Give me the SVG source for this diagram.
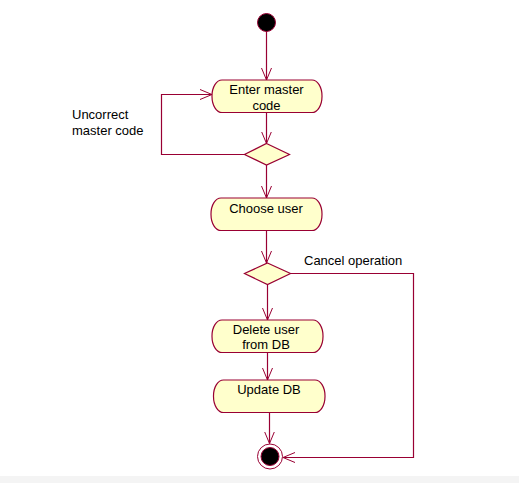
<svg xmlns="http://www.w3.org/2000/svg" width="519" height="483" viewBox="0 0 519 483">
<style>
.node{fill:#ffffcc;stroke:#990033;stroke-width:1.2}
.line{fill:none;stroke:#990033;stroke-width:1.2}
text{font-family:"Liberation Sans",Arial,sans-serif;font-size:13px;fill:#000}
.c{text-anchor:middle}
</style>
<defs>
<marker id="arr" markerWidth="14" markerHeight="12" refX="12" refY="6" orient="auto" markerUnits="userSpaceOnUse">
<path d="M0,1 L12,6 L0,11" fill="none" stroke="#990033" stroke-width="1"/>
</marker>
</defs>
<rect x="0" y="0" width="519" height="483" fill="#ffffff"/>
<rect x="0" y="476" width="519" height="7" fill="#f4f4f4"/>
<g id="connectors">
<path class="line" d="M266.5,31 V80" marker-end="url(#arr)"/>
<path class="line" d="M266.5,112.5 V143.5" marker-end="url(#arr)"/>
<path class="line" d="M244.5,154.5 H161.5 V94.5 H212" marker-end="url(#arr)"/>
<path class="line" d="M266.5,165 V198" marker-end="url(#arr)"/>
<path class="line" d="M266.5,230.5 V263" marker-end="url(#arr)"/>
<path class="line" d="M267.5,284.5 V320" marker-end="url(#arr)"/>
<path class="line" d="M290.5,273.5 H413.5 V457.5 H283" marker-end="url(#arr)"/>
<path class="line" d="M267.5,352.5 V380" marker-end="url(#arr)"/>
<path class="line" d="M269.5,412.5 V443.5" marker-end="url(#arr)"/>
</g>
<g id="start">
<circle cx="266.5" cy="22.5" r="9" fill="#000" stroke="#990033" stroke-width="1"/>
</g>
<g id="enter-master-code">
<rect class="node" x="212" y="80" width="110" height="32.5" rx="10" ry="16"/>
<text class="c" x="266.5" y="93.5">Enter master</text>
<text class="c" x="266.5" y="109.5">code</text>
</g>
<g id="decision1">
<polygon class="node" points="266.5,143.5 289.5,154.5 266.5,165 244.5,154.5"/>
</g>
<text id="label-uncorrect" x="72" y="118.5">Uncorrect</text>
<text x="72" y="134.5">master code</text>
<g id="choose-user">
<rect class="node" x="211" y="198" width="111" height="32.5" rx="10" ry="16"/>
<text class="c" x="266" y="212.5">Choose user</text>
</g>
<g id="decision2">
<polygon class="node" points="267.5,263 290.5,273.5 267.5,284.5 244.5,273.5"/>
</g>
<text id="label-cancel" x="304" y="264.5">Cancel operation</text>
<g id="delete-user">
<rect class="node" x="212" y="320" width="111" height="32.5" rx="10" ry="16"/>
<text class="c" x="266" y="333.5">Delete user</text>
<text class="c" x="266" y="348.5">from DB</text>
</g>
<g id="update-db">
<rect class="node" x="213.5" y="380" width="111.5" height="32.5" rx="10" ry="16"/>
<text class="c" x="269" y="393.5">Update DB</text>
</g>
<g id="end">
<circle cx="270" cy="456.5" r="12.5" fill="#fff" stroke="#990033" stroke-width="1"/>
<circle cx="270" cy="456.5" r="9" fill="#000" stroke="#990033" stroke-width="1"/>
</g>
</svg>
